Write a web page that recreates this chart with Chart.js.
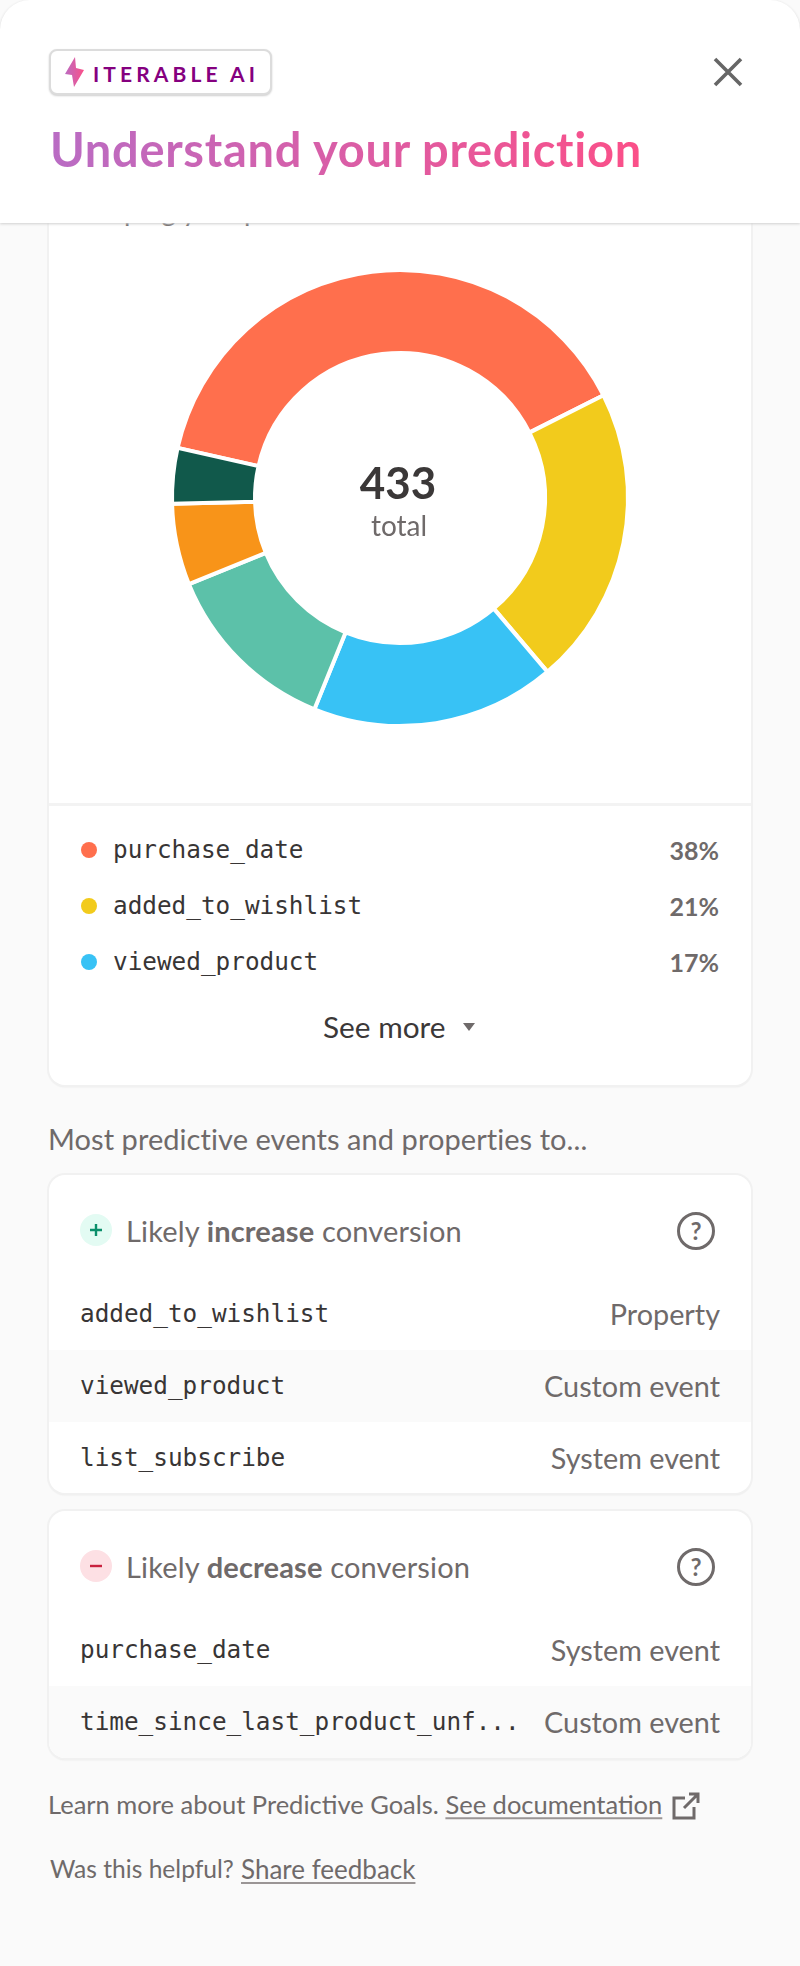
<!DOCTYPE html>
<html>
<head>
<meta charset="utf-8">
<script src="https://cdn.jsdelivr.net/npm/chart.js@4"></script>
<style>
  html, body { margin: 0; padding: 0; background: #fafafa; }
  #page { position: relative; width: 800px; height: 1966px; overflow: hidden; font-family: Lato, sans-serif; color: #6f6a6a; }
  #page > * { position: absolute; }
  .t { position: absolute; white-space: nowrap; line-height: 1; transform: translateY(-50%); }
  .mono { font-family: "DejaVu Sans Mono", monospace; font-size: 24.35px; color: #383535; }
  .side { font-size: 28.8px; }
  .card { background: #fff; border-radius: 16px; box-shadow: 0 0 0 2px #f1f1f1, 0 2px 2px #e4e4e4; left: 49px; width: 702px; overflow: hidden; }
  .band { position: absolute; left: 0; width: 100%; background: #fafafa; }
  a { color: inherit; text-decoration: underline; text-underline-offset: 3px; text-decoration-color: #9a9595; }
  #header { left: 0; top: 0; width: 800px; height: 223px; background: #fff; border-radius: 30px 30px 0 0; box-shadow: 0 1px 3px #cfcfcf; }
  #badge { left: 49px; top: 49px; width: 219px; height: 42px; background: #fff; border: 2px solid #dcdcdc; border-radius: 8px; box-shadow: 0 1px 2px #cfcfcf; }
  #title { left: 50px; top: 122px; font-size: 47px; font-weight: 700; letter-spacing: 0.7px; line-height: 54px; white-space: nowrap; background: linear-gradient(90deg, #b96cc4, #fb4f88); -webkit-background-clip: text; background-clip: text; color: transparent; }
  #chart { left: 140px; top: 248px; }
  #totalNum { left: 298px; width: 200px; text-align: center; top: 481.5px; font-size: 44px; font-weight: 700; color: #3b3838; }
  #totalLbl { left: 299px; width: 200px; text-align: center; top: 525px; font-size: 28px; }
</style>
</head>
<body>
<div id="page">
  <div class="card" style="top:150px;height:935px"></div>
  <div class="t" style="left:80px;top:211px;font-size:27.7px">Shaping your prediction</div>
  <div id="header"></div>
  <div id="badge"></div>
  <svg style="left:64px;top:56px" width="21" height="32" viewBox="0 0 21 32">
    <path d="M11 1 L1 18 L8 19 L10 31 L20 14 L12 12 Z" fill="url(#bolt)"/>
    <defs><linearGradient id="bolt" x1="0" x2="1"><stop offset="0" stop-color="#bb6cc2"/><stop offset="1" stop-color="#fb4f88"/></linearGradient></defs>
  </svg>
  <div class="t" style="left:93px;top:73px;font-size:21px;font-weight:700;letter-spacing:4.1px;color:#85007f">ITERABLE AI</div>
  <svg style="left:712px;top:56px" width="32" height="32" viewBox="0 0 32 32">
    <path d="M3 3 L29 29 M29 3 L3 29" stroke="#666" stroke-width="3.6" fill="none"/>
  </svg>
  <div id="title">Understand your prediction</div>

  <canvas id="chart" width="520" height="500" style="width:520px;height:500px"></canvas>
  <div class="t" id="totalNum"></div>
  <div class="t" id="totalLbl">total</div>

  <div style="left:49px;top:803px;width:702px;height:3px;background:#f3f3f3"></div>
  <div class="t" style="left:323px;top:1027px;font-size:29.8px;color:#3b3838">See more</div>
  <svg style="left:462px;top:1022px" width="14" height="10" viewBox="0 0 14 10"><path d="M1 1 H13 L7 9 Z" fill="#6f6a6a"/></svg>

  <div class="t" style="left:48px;top:1137.5px;font-size:29px;letter-spacing:0.06px">Most predictive events and properties to...</div>

  <div class="card" style="top:1175px;height:318px"><div class="band" style="top:175px;height:72px"></div></div>
  <div class="card" style="top:1511px;height:247px"><div class="band" style="top:175px;height:72px"></div></div>

  <div class="t" style="left:48px;top:1805px;font-size:25.5px">Learn more about Predictive Goals. <a>See documentation</a></div>
  <svg style="left:671px;top:1792px" width="30" height="29" viewBox="0 0 30 29" fill="none" stroke="#6f6a6a" stroke-width="3">
    <path d="M14 6 H3 V26 H23 V15 M13 16 L27 2 M18 2 H27 V11"/>
  </svg>
  <div class="t" style="left:50px;top:1869px;font-size:24.6px">Was this helpful?</div>
  <div class="t" style="left:241px;top:1869px;font-size:26px"><a>Share feedback</a></div>
</div>
<script>
const total = 433;
const categories = ['purchase_date', 'added_to_wishlist', 'viewed_product', 'list_subscribe', 'time_since_last_product_unf...', 'other'];
const counts = [169, 92, 75, 55, 25, 17];
const colors = ['#ff6f4d', '#f2cb1c', '#38c2f5', '#5cc1a9', '#f89419', '#11594b'];

const legendNames = ['purchase_date', 'added_to_wishlist', 'viewed_product'];
const legendPercents = ['38%', '21%', '17%'];

const increaseNames = ['added_to_wishlist', 'viewed_product', 'list_subscribe'];
const increaseTypes = ['Property', 'Custom event', 'System event'];
const decreaseNames = ['purchase_date', 'time_since_last_product_unf...'];
const decreaseTypes = ['System event', 'Custom event'];

new Chart(document.getElementById('chart'), {
  type: 'doughnut',
  data: {
    labels: categories,
    datasets: [
      {
        data: counts,
        backgroundColor: colors,
        borderColor: '#fff',
        borderWidth: 4,
      },
    ],
  },
  options: {
    responsive: false,
    animation: false,
    rotation: 282.7,
    radius: 228,
    cutout: '63.6%',
    plugins: { legend: { display: false }, tooltip: { enabled: false } },
  },
});

document.getElementById('totalNum').textContent = total;

const page = document.getElementById('page');

function addText(cls, style, text) {
  const el = document.createElement('div');
  el.className = 't ' + cls;
  el.style.cssText = style;
  el.innerHTML = text;
  page.appendChild(el);
}

legendNames.forEach((name, i) => {
  const y = 850 + i * 56;
  const dot = document.createElement('div');
  dot.style.cssText = `left:81px;top:${y - 8}px;width:16px;height:16px;border-radius:50%;background:${colors[i]}`;
  page.appendChild(dot);
  addText('mono', `left:113px;top:${y}px`, name);
  addText('', `right:81px;top:${y}px;font-size:25px;font-weight:700`, legendPercents[i]);
});

function addTable(iconBg, iconColor, iconPath, word, top, names, types) {
  const icon = `<svg style="position:absolute;left:80px;top:${top + 39}px" width="32" height="32" viewBox="0 0 32 32">
    <circle cx="16" cy="16" r="16" fill="${iconBg}"/><path d="${iconPath}" stroke="${iconColor}" stroke-width="2.4"/></svg>
    <svg style="position:absolute;left:677px;top:${top + 37}px" width="38" height="38" viewBox="0 0 38 38" fill="none">
    <circle cx="19" cy="19" r="17.5" stroke="#6f6a6a" stroke-width="3"/></svg>`;
  page.insertAdjacentHTML('beforeend', icon);
  addText('', `left:676px;width:40px;text-align:center;top:${top + 56}px;font-size:24px;font-weight:700`, '?');
  addText('', `left:126px;top:${top + 54.5}px;font-size:29px;letter-spacing:0.15px`, `Likely <b>${word}</b> conversion`);
  names.forEach((name, i) => {
    const y = top + 139 + i * 72;
    addText('mono', `left:80px;top:${y}px`, name);
    addText('side', `right:80px;top:${y}px`, types[i]);
  });
}

addTable('#e3fbf3', '#0a8f6b', 'M16 10 V22 M10 16 H22', 'increase', 1175, increaseNames, increaseTypes);
addTable('#fde0e4', '#c9223f', 'M10 16 H22', 'decrease', 1511, decreaseNames, decreaseTypes);
</script>
</body>
</html>
